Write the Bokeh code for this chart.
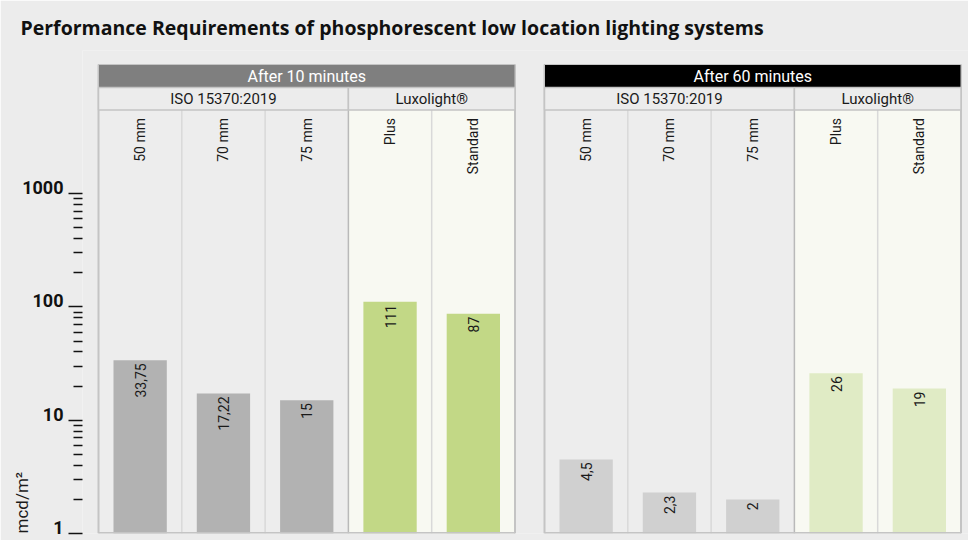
import math
from bokeh.plotting import figure
from bokeh.models import (Range1d, LogAxis, FixedTicker, LogScale, Title,
                          BasicTickFormatter)
from bokeh.core.properties import value
from bokeh.embed import file_html
from bokeh.resources import INLINE

# ---------------- data ----------------
TITLE = "Performance Requirements of phosphorescent low location lighting systems"
PANELS = ["After 10 minutes", "After 60 minutes"]
GROUPS = ["ISO 15370:2019", "Luxolight®"]
GROUP_SIZES = [3, 2]
CATEGORIES = ["50 mm", "70 mm", "75 mm", "Plus", "Standard"]
AFTER_10 = [33.75, 17.22, 15, 111, 87]
AFTER_60 = [4.5, 2.3, 2, 26, 19]
Y_TICKS = [1, 10, 100, 1000]
UNIT = "mcd/m²"

# ---------------- style / layout ----------------
FONT = "Roboto"
BG = "#ececec"
W, H = 968, 540
LEFT_B, TOP_B, BOTTOM_B = 82, 50, 7
COL = 83.3          # px per column
DEC = 113.3         # px per decade
FRAME_H = H - TOP_B - BOTTOM_B
BASE_Y = H - BOTTOM_B   # pixel row of value 1


def y_at(py):
    return 10 ** ((BASE_Y - py) / DEC)


def x_at(px):
    return (px - 98) / COL


HDR_TOP, SUB_TOP, COL_TOP = y_at(64), y_at(87), y_at(109.5)
OFFSETS = [0.0, x_at(544)]
HDR_FILL = ["#7f7f7f", "#000000"]
BAR_ISO = ["#b2b2b2", "#d0d0d0"]
BAR_LUX = ["#c2d886", "#e0ebc5"]
BG_ISO, BG_LUX = "#ededed", "#f8f9f2"
SERIES = [AFTER_10, AFTER_60]
n_iso = GROUP_SIZES[0]

p = figure(width=W, height=H, output_backend="svg", toolbar_location=None,
           title=TITLE, y_axis_type="log", x_axis_location=None,
           x_range=Range1d(x_at(LEFT_B), x_at(W)),
           y_range=Range1d(1, 10 ** (FRAME_H / DEC)),
           min_border_left=LEFT_B, min_border_right=0,
           min_border_top=TOP_B, min_border_bottom=BOTTOM_B,
           background_fill_color=BG, border_fill_color=BG,
           outline_line_color=None)
p.grid.visible = False

p.title.align = "left"
p.title.offset = 20 - LEFT_B
p.title.standoff = 19
p.title.text_font = "Open Sans"
p.title.text_font_style = "bold"
p.title.text_font_size = "19.5px"
p.title.text_color = "#111111"

# tick axis (default left axis)
ax = p.yaxis[0]
ax.ticker = FixedTicker(ticks=Y_TICKS,
                        minor_ticks=[m * t for t in Y_TICKS[:-1] for m in range(2, 10)])
ax.axis_line_color = None
ax.major_tick_out, ax.major_tick_in = 14, 0
ax.minor_tick_out, ax.minor_tick_in = 9, 0
ax.major_tick_line_color = "#111111"
ax.minor_tick_line_color = "#111111"
ax.major_tick_line_width = 1.6
ax.minor_tick_line_width = 1.6
ax.major_label_text_font_size = "2px"
ax.major_label_text_alpha = 0
ax.major_label_standoff = 0

# label axis, shifted so labels sit on the tick baseline
SHIFT = 10 ** (-6 / DEC)
p.extra_y_ranges = {"lab": Range1d(SHIFT, 10 ** (FRAME_H / DEC) * SHIFT)}
p.extra_y_scales = {"lab": LogScale()}
lab = LogAxis(y_range_name="lab", ticker=FixedTicker(ticks=Y_TICKS, minor_ticks=[]),
              formatter=BasicTickFormatter(use_scientific=False))
lab.axis_line_color = None
lab.major_tick_out = 1
lab.major_tick_in = 0
lab.major_tick_line_color = None
lab.minor_tick_line_color = None
lab.major_label_text_font = FONT
lab.major_label_text_font_style = "bold"
lab.major_label_text_font_size = "18px"
lab.major_label_text_color = "#111111"
lab.major_label_standoff = 4
p.add_layout(lab, "left")

p.add_layout(Title(text=UNIT, align="left", text_font=FONT, text_font_size="17px",
                   text_font_style="normal", text_color="#1a1a1a", standoff=-24), "left")

for k in range(2):
    off = OFFSETS[k]
    vals = SERIES[k]
    xs = [off + i + 0.5 for i in range(len(CATEGORIES))]
    # column backgrounds
    p.quad(left=[off + i for i in range(len(CATEGORIES))],
           right=[off + i + 1 for i in range(len(CATEGORIES))],
           bottom=1, top=COL_TOP,
           fill_color=[BG_ISO if i < n_iso else BG_LUX for i in range(len(CATEGORIES))],
           line_color=None)
    # separators
    seps = list(range(1, len(CATEGORIES)))
    p.segment(x0=[off + i for i in seps], x1=[off + i for i in seps], y0=1, y1=COL_TOP,
              line_color=["#b9b9b9" if i == n_iso else "#d9d9d9" for i in seps],
              line_width=1.5)
    # bars
    p.vbar(x=xs, top=vals, bottom=1, width=0.64,
           fill_color=[BAR_ISO[k] if i < n_iso else BAR_LUX[k] for i in range(len(vals))],
           line_color=None)
    # value labels
    p.text(x=xs, y=vals, text=[f"{v:g}".replace(".", ",") for v in vals],
           angle=math.pi / 2, text_align="right", text_baseline="middle",
           y_offset=3, text_font=value(FONT), text_font_size="14px", text_color="#1a1a1a")
    # category labels
    p.text(x=xs, y=COL_TOP, text=CATEGORIES, angle=math.pi / 2,
           text_align="right", text_baseline="middle", y_offset=8,
           text_font=value(FONT), text_font_size="14px", text_color="#1a1a1a")
    # panel outline (left, right, bottom)
    p.segment(x0=[off, off + len(CATEGORIES), off], x1=[off, off + len(CATEGORIES), off + len(CATEGORIES)],
              y0=[1, 1, 1.008], y1=[HDR_TOP, HDR_TOP, 1.008],
              line_color="#c4c4c4", line_width=2)
    # header
    p.quad(left=off, right=off + len(CATEGORIES), bottom=SUB_TOP, top=HDR_TOP,
           fill_color=HDR_FILL[k], line_color="#c4c4c4", line_width=1)
    p.text(x=[off + len(CATEGORIES) / 2], y=[math.sqrt(SUB_TOP * HDR_TOP)], text=[PANELS[k]],
           text_align="center", text_baseline="middle",
           text_font=value(FONT), text_font_size="16px", text_color="#ffffff")
    # group sub-headers
    starts = [0, GROUP_SIZES[0]]
    p.quad(left=[off + s for s in starts], right=[off + s + g for s, g in zip(starts, GROUP_SIZES)],
           bottom=COL_TOP, top=SUB_TOP, fill_color=BG, line_color="#c4c4c4", line_width=1.5)
    p.text(x=[off + s + g / 2 for s, g in zip(starts, GROUP_SIZES)],
           y=[math.sqrt(COL_TOP * SUB_TOP)] * 2, text=GROUPS,
           text_align="center", text_baseline="middle",
           text_font=value(FONT), text_font_size="15px", text_color="#1a1a1a")

open("out.html", "w").write(file_html(p, INLINE))
